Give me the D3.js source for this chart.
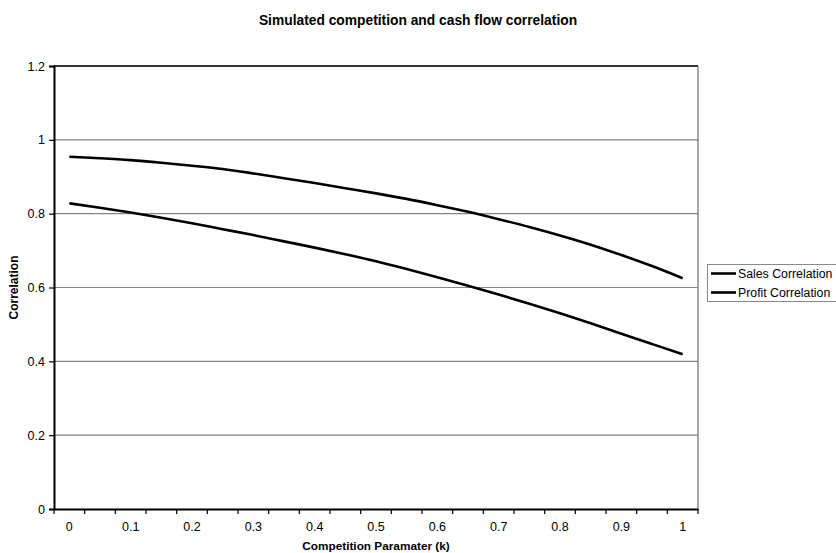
<!DOCTYPE html>
<html lang="en">
<head>
    <meta charset="UTF-8">
    <script src="https://d3js.org/d3.v7.min.js"></script>
    <style>
        body { margin: 0; background: #fff; }
        text { font-family: "Liberation Sans", Arial, sans-serif; fill: #000; }
    </style>
</head>
<body>
    <svg id="chart" width="836" height="553"></svg>

    <script>
        // competition parameter k (category axis, labels every 0.1)
        const kValues = [0, 0.05, 0.1, 0.15, 0.2, 0.25, 0.3, 0.35, 0.4, 0.45, 0.5,
                         0.55, 0.6, 0.65, 0.7, 0.75, 0.8, 0.85, 0.9, 0.95, 1];
        const salesCorr = [0.954, 0.950, 0.945, 0.938, 0.930, 0.921, 0.909, 0.896, 0.883, 0.869, 0.855,
                           0.840, 0.823, 0.805, 0.785, 0.764, 0.741, 0.716, 0.688, 0.658, 0.625];
        const profitCorr = [0.828, 0.816, 0.803, 0.789, 0.774, 0.758, 0.742, 0.725, 0.708, 0.690, 0.671,
                            0.650, 0.628, 0.605, 0.581, 0.556, 0.530, 0.503, 0.475, 0.447, 0.419];
        const yTicks = [0, 0.2, 0.4, 0.6, 0.8, 1, 1.2];
        const seriesNames = ["Sales Correlation", "Profit Correlation"];

        const margin = { left: 54, top: 66, right: 138, bottom: 44 };
        const width = 836, height = 553;
        const svg = d3.select("#chart");

        const x = d3.scaleBand()
            .domain(kValues)
            .range([margin.left, width - margin.right])
            .padding(0);
        const y = d3.scaleLinear()
            .domain([0, 1.2])
            .range([height - margin.bottom, margin.top]);

        const x0 = margin.left, x1 = width - margin.right;
        const y0 = height - margin.bottom, y1 = margin.top;

        // horizontal gridlines
        svg.append("g")
            .selectAll("line")
            .data(yTicks.slice(1, -1))
            .enter().append("line")
            .attr("x1", x0).attr("x2", x1)
            .attr("y1", d => y(d)).attr("y2", d => y(d))
            .attr("stroke", "#858585")
            .attr("stroke-width", 1.2);

        // plot frame top and right
        svg.append("line")
            .attr("x1", x0).attr("x2", x1)
            .attr("y1", y1).attr("y2", y1)
            .attr("stroke", "#333").attr("stroke-width", 2);
        svg.append("line")
            .attr("x1", x1).attr("x2", x1)
            .attr("y1", y1).attr("y2", y0)
            .attr("stroke", "#777").attr("stroke-width", 1.3);

        // y axis
        const yAxis = svg.append("g")
            .attr("transform", `translate(${x0},0)`)
            .call(d3.axisLeft(y).tickValues(yTicks).tickSize(5).tickPadding(4)
                .tickFormat(d3.format("~g")));
        yAxis.select(".domain").attr("stroke", "#000").attr("stroke-width", 2);
        yAxis.selectAll(".tick line").attr("stroke", "#000").attr("stroke-width", 1.2);
        yAxis.selectAll("text").attr("font-size", 12.5);

        // x axis labels every 0.1
        const xAxis = svg.append("g")
            .attr("transform", `translate(0,${y0})`)
            .call(d3.axisBottom(x).tickSize(0).tickPadding(13)
                .tickFormat((d, i) => i % 2 === 0 ? d3.format("~g")(d) : ""));
        xAxis.select(".domain").attr("stroke", "#000").attr("stroke-width", 2);
        xAxis.selectAll("text").attr("font-size", 12.5);

        // tick marks at category boundaries
        const bounds = kValues.map(k => x(k)).concat([x1]);
        svg.append("g")
            .selectAll("line")
            .data(bounds)
            .enter().append("line")
            .attr("x1", d => d).attr("x2", d => d)
            .attr("y1", y0).attr("y2", y0 + 5)
            .attr("stroke", "#000").attr("stroke-width", 1.2);

        // lines
        const line = d3.line()
            .x((d, i) => x(kValues[i]) + x.bandwidth() / 2)
            .y(d => y(d))
            .curve(d3.curveMonotoneX);

        [salesCorr, profitCorr].forEach(s => {
            svg.append("path")
                .datum(s)
                .attr("d", line)
                .attr("fill", "none")
                .attr("stroke", "#000")
                .attr("stroke-width", 2.6);
        });

        // titles
        svg.append("text")
            .attr("x", 418).attr("y", 25)
            .attr("text-anchor", "middle")
            .attr("font-size", 13.8).attr("font-weight", "bold")
            .text("Simulated competition and cash flow correlation");
        svg.append("text")
            .attr("x", (x0 + x1) / 2).attr("y", 550)
            .attr("text-anchor", "middle")
            .attr("font-size", 11.8).attr("font-weight", "bold")
            .text("Competition Paramater (k)");
        svg.append("text")
            .attr("transform", `translate(18,${(y0 + y1) / 2}) rotate(-90)`)
            .attr("text-anchor", "middle")
            .attr("font-size", 12).attr("font-weight", "bold")
            .text("Correlation");

        // legend
        const legend = svg.append("g").attr("transform", "translate(707,264)");
        legend.append("rect")
            .attr("x", 0.5).attr("y", 0.5)
            .attr("width", 140).attr("height", 37)
            .attr("fill", "#fff")
            .attr("stroke", "#888").attr("stroke-width", 1);
        seriesNames.forEach((name, i) => {
            const ly = 9.5 + i * 19;
            legend.append("line")
                .attr("x1", 4).attr("x2", 29)
                .attr("y1", ly).attr("y2", ly)
                .attr("stroke", "#000").attr("stroke-width", 2.6);
            legend.append("text")
                .attr("x", 31).attr("y", ly + 4.3)
                .attr("font-size", 12.3)
                .text(name);
        });
    </script>
</body>
</html>
